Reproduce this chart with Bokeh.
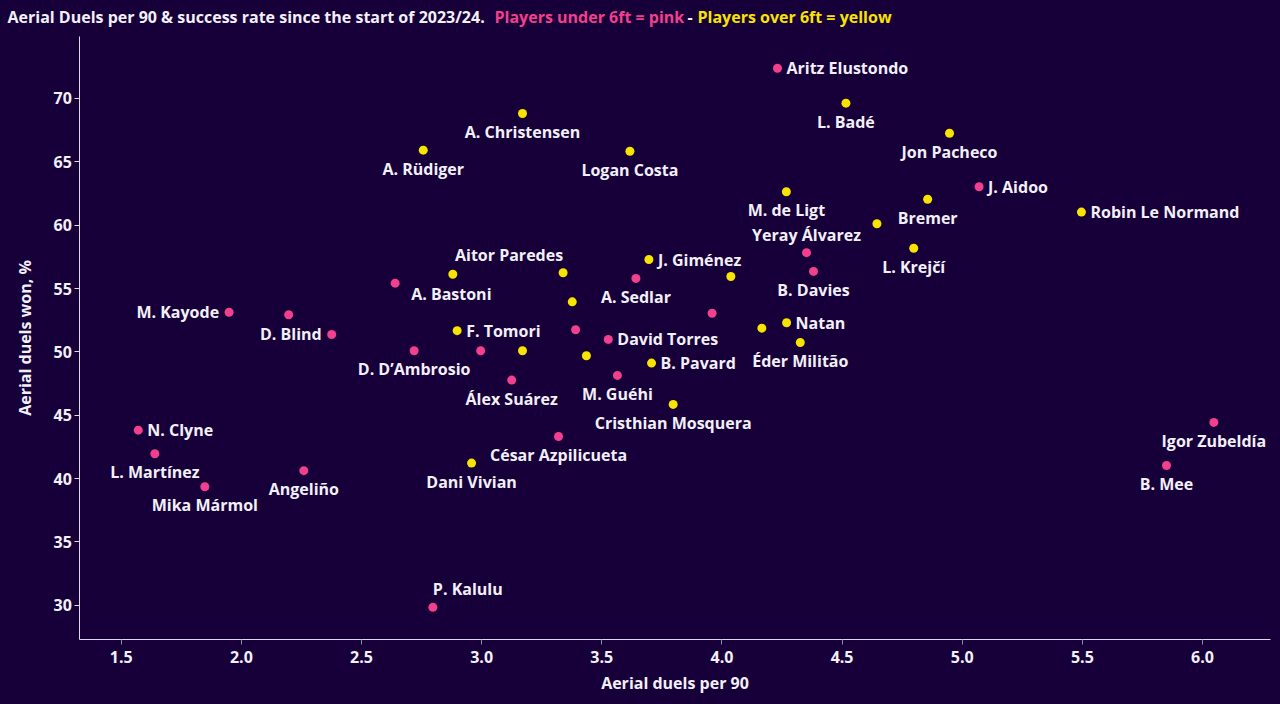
from bokeh.plotting import figure
from bokeh.models import ColumnDataSource, FixedTicker, PrintfTickFormatter, Label, Range1d
from bokeh.embed import file_html
from bokeh.resources import INLINE
from bokeh.core.properties import value

BG = "#170039"
PINK = "#f23f8e"
YELLOW = "#f7e400"
TEXT = "#f2f0f7"
FONT = "Open Sans"

# ---------------- data ----------------
# Players under 6ft (pink)
pink_names = ["Aritz Elustondo", "J. Aidoo", "Yeray Álvarez", "B. Davies", "A. Sedlar",
              "A. Bastoni", "M. Kayode", "", "D. Blind", "", "David Torres",
              "D. D\u2019Ambrosio", "", "Álex Suárez", "M. Guéhi", "", "N. Clyne",
              "L. Martínez", "Mika Mármol", "Angeliño", "César Azpilicueta", "P. Kalulu",
              "Igor Zubeldía", "B. Mee"]
pink_duels = [4.231, 5.070, 4.352, 4.381, 3.642, 2.640, 1.949, 2.197, 2.376, 3.391, 3.527,
              2.719, 2.996, 3.125, 3.565, 3.959, 1.571, 1.640, 1.848, 2.260, 3.320, 2.797,
              6.047, 5.850]
pink_won = [72.39, 63.03, 57.83, 56.35, 55.80, 55.42, 53.13, 52.93, 51.37, 51.74, 50.98,
            50.09, 50.09, 47.77, 48.14, 53.05, 43.82, 41.96, 39.35, 40.62, 43.32, 29.83,
            44.43, 41.03]
pink_label_side = ["r", "r", "a", "b", "b", "br", "l", "", "l", "", "r",
                   "b", "", "b", "b", "", "r", "b", "b", "b", "b", "ar", "b", "b"]

# Players over 6ft (yellow)
yellow_names = ["L. Badé", "Jon Pacheco", "A. Christensen", "A. Rüdiger", "Logan Costa",
                "M. de Ligt", "Bremer", "Robin Le Normand", "", "L. Krejčí", "J. Giménez",
                "", "Aitor Paredes", "", "", "Natan", "", "Éder Militão", "F. Tomori",
                "", "", "B. Pavard", "Cristhian Mosquera", "Dani Vivian"]
yellow_duels = [4.516, 4.947, 3.170, 2.757, 3.617, 4.268, 4.856, 5.496, 4.645, 4.798, 3.696,
                4.037, 3.339, 2.880, 3.377, 4.269, 4.166, 4.326, 2.898, 3.170, 3.436, 3.707,
                3.797, 2.958]
yellow_won = [69.63, 67.26, 68.82, 65.92, 65.84, 62.64, 62.05, 61.03, 60.11, 58.18, 57.29,
              55.95, 56.24, 56.13, 53.95, 52.30, 51.87, 50.74, 51.67, 50.09, 49.69, 49.11,
              45.85, 41.22]
yellow_label_side = ["b", "b", "b", "b", "b", "b", "b", "r", "", "b", "r",
                     "", "al", "", "", "r", "", "b", "r", "", "", "r", "b", "b"]

x_ticks = [1.5, 2.0, 2.5, 3.0, 3.5, 4.0, 4.5, 5.0, 5.5, 6.0]
y_ticks = [30, 35, 40, 45, 50, 55, 60, 65, 70]

title_parts = ["Aerial Duels per 90 & success rate since the start of 2023/24.",
               "Players under 6ft = pink", "-", "Players over 6ft = yellow"]

# ---------------- layout / style ----------------
# visible axis extents (data units) and the full canvas ranges around them
X_AXIS_SPAN = (1.3277, 6.2827)
Y_AXIS_SPAN = (27.292, 74.895)
X_VIEW = (0.9977, 6.3244)
Y_VIEW = (22.161, 77.736)

SIDE = {
    "r": (9, 0, "left"),
    "l": (-10, 0, "right"),
    "b": (0, 18.5, "center"),
    "a": (0, -17.5, "center"),
    "ar": (0, -18, "left"),
    "al": (0, -18, "right"),
    "br": (16, 10.5, "left"),
}

p = figure(width=1280, height=704, output_backend="svg", toolbar_location=None,
           x_range=Range1d(*X_VIEW), y_range=Range1d(*Y_VIEW),
           background_fill_color=BG, border_fill_color=BG,
           min_border=0, min_border_left=0, min_border_right=0,
           min_border_top=0, min_border_bottom=0)
p.outline_line_color = None
p.grid.visible = False

for ax in (p.xaxis[0], p.yaxis[0]):
    ax.axis_line_color = "#dcdce6"
    ax.axis_line_width = 1
    ax.major_tick_in = 0
    ax.major_tick_out = 5
    ax.minor_tick_line_color = None
    ax.major_label_text_font = FONT
    ax.major_label_text_font_style = "bold"
    ax.major_label_text_font_size = "16px"
    ax.major_label_text_color = TEXT
    ax.axis_label_text_font = FONT
    ax.axis_label_text_font_style = "bold"
    ax.axis_label_text_font_size = "16px"
    ax.axis_label_text_color = TEXT

p.xaxis.fixed_location = Y_AXIS_SPAN[0]
p.yaxis.fixed_location = X_AXIS_SPAN[0]
p.xaxis.bounds = X_AXIS_SPAN
p.yaxis.bounds = Y_AXIS_SPAN
p.xaxis.ticker = FixedTicker(ticks=x_ticks)
p.xaxis.formatter = PrintfTickFormatter(format="%.1f")
p.yaxis.ticker = FixedTicker(ticks=y_ticks)
p.xaxis.major_tick_line_color = "#8c8ca0"
p.yaxis.major_tick_line_color = "#dcdce6"
p.xaxis.axis_label = "Aerial duels per 90"
p.yaxis.axis_label = "Aerial duels won, %"
p.xaxis.major_label_standoff = 6
p.yaxis.major_label_standoff = 3
p.xaxis.axis_label_standoff = 6
p.yaxis.axis_label_standoff = 14

p.scatter(pink_duels, pink_won, size=9, color=PINK, line_color=None)
p.scatter(yellow_duels, yellow_won, size=9, color=YELLOW, line_color=None)

groups = {}
for names, xs, ys, sides in ((pink_names, pink_duels, pink_won, pink_label_side),
                             (yellow_names, yellow_duels, yellow_won, yellow_label_side)):
    for n, xv, yv, s in zip(names, xs, ys, sides):
        if not n:
            continue
        dx, dy, al = SIDE[s]
        g = groups.setdefault(al, dict(x=[], y=[], t=[], dx=[], dy=[]))
        g["x"].append(xv); g["y"].append(yv); g["t"].append(n)
        g["dx"].append(dx); g["dy"].append(dy)

for al, g in groups.items():
    src = ColumnDataSource(g)
    p.text(x="x", y="y", text="t", x_offset="dx", y_offset="dy", source=src,
           text_align=al, text_baseline="middle", text_font=value(FONT),
           text_font_style="bold", text_font_size="16px", text_color=TEXT)

# multi-coloured title, screen px from the frame's bottom-left (frame = whole canvas)
title_x = [7, 494, 687, 697]
title_colors = [TEXT, PINK, TEXT, YELLOW]
for t, xx, c in zip(title_parts, title_x, title_colors):
    p.add_layout(Label(x=xx, y=688, x_units="screen", y_units="screen", text=t,
                       text_color=c, text_font=FONT, text_font_style="bold",
                       text_font_size="16px", text_baseline="middle"))

html = file_html(p, INLINE)
html = html.replace("<head>", "<head><style>html,body{background:%s;}</style>" % BG, 1)
open("out.html", "w").write(html)
